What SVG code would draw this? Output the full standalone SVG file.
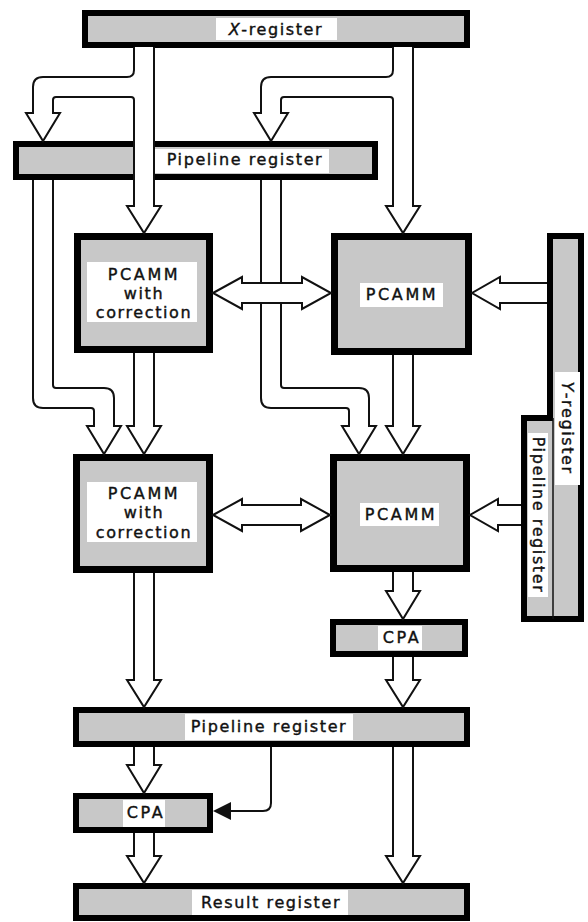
<svg xmlns="http://www.w3.org/2000/svg" width="588" height="922" viewBox="0 0 588 922">
  <style>
    .box { fill: #c8c8c8; stroke: #000; }
    .reg { stroke-width: 6; }
    .mul { stroke-width: 7; }
    .lbl { fill: #fff; }
    .t { font-family: "DejaVu Sans", "Liberation Sans", sans-serif; font-size: 16px; fill: #111; stroke: #111; stroke-width: 0.4; text-anchor: middle; letter-spacing: 1.6px; }
    .caps { letter-spacing: 2.6px; }
    .it { font-style: italic; }
    .bus { fill: #fff; stroke: #111; stroke-width: 2; stroke-linejoin: miter; }
    .wire { fill: none; stroke: #111; stroke-width: 2; }
  </style>
  <rect width="588" height="922" fill="#fff"/>

  <!-- nodes -->
  <g id="x-register">
    <rect class="box reg" x="85" y="13" width="382" height="32"/>
    <rect class="lbl" x="216" y="18" width="121" height="22"/>
    <text class="t" x="276" y="35"><tspan class="it">X</tspan>-register</text>
  </g>

  <g id="pipeline-top">
    <rect class="box reg" x="16" y="144" width="359" height="33"/>
    <rect class="lbl" x="153" y="149" width="176" height="24"/>
    <text class="t" x="245" y="165">Pipeline register</text>
  </g>

  <g id="pcamm-corr-1">
    <rect class="box mul" x="77.5" y="236.5" width="132" height="113"/>
    <rect class="lbl" x="87" y="262" width="110" height="60"/>
    <text class="t" x="144" y="280"><tspan class="caps">PCAMM</tspan></text>
    <text class="t" x="144" y="299">with</text>
    <text class="t" x="144" y="318">correction</text>
  </g>

  <g id="pcamm-1">
    <rect class="box mul" x="334.5" y="236.5" width="134" height="115"/>
    <rect class="lbl" x="360" y="283" width="83" height="24"/>
    <text class="t caps" x="402" y="300">PCAMM</text>
  </g>

  <g id="pcamm-corr-2">
    <rect class="box mul" x="76.5" y="457.5" width="133" height="112"/>
    <rect class="lbl" x="87" y="482" width="110" height="60"/>
    <text class="t" x="144" y="499"><tspan class="caps">PCAMM</tspan></text>
    <text class="t" x="144" y="518">with</text>
    <text class="t" x="144" y="538">correction</text>
  </g>

  <g id="pcamm-2">
    <rect class="box mul" x="333.5" y="457.5" width="133" height="111"/>
    <rect class="lbl" x="360" y="503" width="79" height="23"/>
    <text class="t caps" x="401" y="520">PCAMM</text>
  </g>

  <g id="y-register">
    <rect class="box reg" x="550" y="236" width="31" height="383"/>
    <rect class="lbl" x="555" y="372" width="25" height="113"/>
    <text class="t" transform="translate(567,428) rotate(90)" x="0" y="5.5"><tspan class="it">Y</tspan>-register</text>
  </g>

  <g id="pipeline-y">
    <rect x="524" y="418" width="29" height="201" fill="#c8c8c8"/>
    <path d="M553,418 H524 V619 H553" fill="none" stroke="#000" stroke-width="6"/>
    <line x1="553" y1="418" x2="553" y2="619" stroke="#111" stroke-width="1.5"/>
    <rect class="lbl" x="528" y="433" width="20" height="164"/>
    <text class="t" transform="translate(538,515) rotate(90)" x="0" y="5.5">Pipeline register</text>
  </g>

  <g id="cpa-1">
    <rect class="box reg" x="333" y="622" width="132" height="32"/>
    <rect class="lbl" x="378" y="626" width="44" height="24"/>
    <text class="t caps" x="402" y="643">CPA</text>
  </g>

  <g id="pipeline-bottom">
    <rect class="box reg" x="76" y="710" width="391" height="34"/>
    <rect class="lbl" x="185" y="714" width="168" height="26"/>
    <text class="t" x="269" y="732">Pipeline register</text>
  </g>

  <g id="cpa-2">
    <rect class="box reg" x="76" y="796" width="134" height="34"/>
    <rect class="lbl" x="123" y="800" width="42" height="27"/>
    <text class="t caps" x="146" y="818">CPA</text>
  </g>

  <g id="result-register">
    <rect class="box reg" x="76" y="886" width="391" height="32"/>
    <rect class="lbl" x="192" y="890" width="156" height="25"/>
    <text class="t" x="271" y="908">Result register</text>
  </g>

  <!-- connectors: hollow bus arrows drawn as open outlines (no stroke across the source edge) -->
  <g id="connectors">
    <!-- pipeline (top) to second row, left -->
    <path class="bus" d="M33,180 V398 Q33,408 43,408 H91 Q94,408 94,411 V426 H87 L104,454 L121,426 H114 V398 Q114,388 104,388 H56 Q53,388 53,385 V180"/>
    <!-- pipeline (top) to second row, right -->
    <path class="bus" d="M261,180 V398 Q261,408 271,408 H346 Q349,408 349,411 V426 H342 L359,454 L376,426 H369 V398 Q369,388 359,388 H284 Q281,388 281,385 V180"/>
    <!-- X-register to left PCAMM and pipeline -->
    <path class="bus" d="M134,47 V70 Q134,77 127,77 H43 Q33,77 33,87 V113 H26 L43,141 L60,113 H53 V100 Q53,97 56,97 H131 Q134,97 134,100 V206 H127 L144,233 L161,206 H154 V47"/>
    <!-- X-register to right PCAMM and pipeline -->
    <path class="bus" d="M393,47 V70 Q393,77 386,77 H271 Q261,77 261,87 V113 H254 L271,141 L288,113 H281 V100 Q281,97 284,97 H390 Q393,97 393,100 V206 H386 L403,233 L420,206 H413 V47"/>
    <!-- first row to second row -->
    <path class="bus" d="M134,353 V426 H127 L144,454 L161,426 H154 V353"/>
    <path class="bus" d="M393,355 V426 H386 L403,454 L420,426 H413 V355"/>
    <!-- bidirectional links between PCAMMs -->
    <path class="bus" d="M213,293 L242,277 V283 H302 V277 L331,293 L302,309 V303 H242 V309 Z"/>
    <path class="bus" d="M213,515 L242,499 V505 H301 V499 L330,515 L301,531 V525 H242 V531 Z"/>
    <!-- Y side inputs -->
    <path class="bus" d="M547,283 H500 V277 L472,293 L500,309 V303 H547"/>
    <path class="bus" d="M521,505 H498 V499 L470,515 L498,531 V525 H521"/>
    <!-- down to CPA and bottom pipeline -->
    <path class="bus" d="M393,572 V591 H386 L403,619 L420,591 H413 V572"/>
    <path class="bus" d="M393,657 V680 H386 L403,707 L420,680 H413 V657"/>
    <path class="bus" d="M134,573 V680 H127 L144,707 L161,680 H154 V573"/>
    <!-- bottom pipeline outputs -->
    <path class="bus" d="M134,747 V765 H127 L144,793 L161,765 H154 V747"/>
    <path class="bus" d="M134,833 V856 H127 L144,883 L161,856 H154 V833"/>
    <path class="bus" d="M393,747 V856 H386 L403,883 L420,856 H413 V747"/>
    <!-- control line into CPA -->
    <path class="wire" d="M271,747 V803 Q271,811 263,811 H228"/>
    <polygon points="213,811 231,802 231,820" fill="#111"/>
  </g>
</svg>
